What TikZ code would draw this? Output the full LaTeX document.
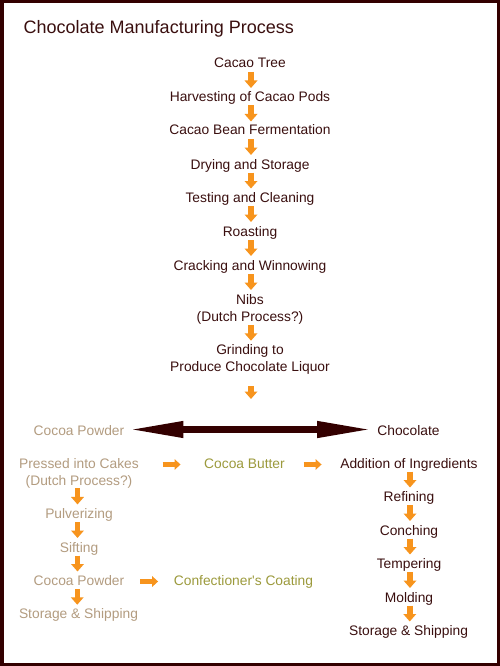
\documentclass[tikz,border=0pt]{standalone}
\usepackage{fontspec}
\setmainfont{Liberation Sans}[Ligatures=TeXOff]
\usetikzlibrary{arrows.meta,calc}
\definecolor{framec}{HTML}{330000}
\definecolor{dk}{HTML}{3A0F0F}
\definecolor{tanc}{HTML}{B39C80}
\definecolor{olivec}{HTML}{9C9A3C}
\definecolor{orng}{HTML}{F7941D}
\newcommand\flowdown[3][1]{\draw[darr] ($(#2.south)!0.5!(#3.north)+(#1,-9.5)$) -- ++(0,16);}
\newcommand\flowright[2]{\draw[harr] ($(#1.east |- #2.west)!0.5!(#2.west)+(-9,0)$) -- ++(18,0);}
\begin{document}
\begin{tikzpicture}[x=1pt,y=-1pt,
  every node/.style={inner sep=0pt, font=\fontsize{13.8}{17}\selectfont},
  one/.style={text height=10pt, text depth=3pt},
  two/.style={align=center},
  dtxt/.style={text=dk}, ttxt/.style={text=tanc}, otxt/.style={text=olivec},
  darr/.style={draw=orng, line width=5.5pt, -{Triangle[width=12.5pt,length=7.5pt]}},
  harr/.style={draw=orng, line width=5pt, -{Triangle[width=10.5pt,length=6pt]}},
  bigarr/.style={draw=framec, line width=7pt, {Triangle[width=15pt,length=56pt]}-{Triangle[width=15pt,length=56pt]}}
]
\useasboundingbox (0,0) rectangle (500,666);
\fill[white] (0,0) rectangle (500,666);
\draw[framec, line width=3.5pt] (1.75,1.75) rectangle (498.25,664.25);

\node[dtxt, anchor=base west, font=\fontsize{18}{21}\selectfont] (title) at (23.5,33.5) {Chocolate Manufacturing Process};

% centre column
\node[one,dtxt] (tree) at (250,64.5) {Cacao Tree};
\node[one,dtxt] (harv) at (250,98.5) {Harvesting of Cacao Pods};
\node[one,dtxt] (ferm) at (250,131.5) {Cacao Bean Fermentation};
\node[one,dtxt] (dry) at (250,165.5) {Drying and Storage};
\node[one,dtxt] (test) at (250,198.5) {Testing and Cleaning};
\node[one,dtxt] (roast) at (250,232.5) {Roasting};
\node[one,dtxt] (crack) at (250,266.5) {Cracking and Winnowing};
\node[two,dtxt] (nibs) at (250,309) {Nibs\\(Dutch Process?)};
\node[two,dtxt] (grind) at (250,359.5) {Grinding to\\Produce Chocolate Liquor};
\coordinate (split) at (251,399);

\flowdown{tree}{harv}
\flowdown{harv}{ferm}
\flowdown{ferm}{dry}
\flowdown{dry}{test}
\flowdown{test}{roast}
\flowdown{roast}{crack}
\flowdown{crack}{nibs}
\flowdown{nibs}{grind}
\draw[darr] ($(grind.south)+(1,11.5)$) -- (split);

% split
\node[one,ttxt] (cpt) at (79,431.5) {Cocoa Powder};
\node[one,dtxt] (choc) at (408.5,431.5) {Chocolate};
\draw[bigarr] ($(cpt.east)+(3,-2)$) -- ($(choc.west)+(-4,-2)$);

% left branch
\node[two,ttxt] (press) at (79,473) {Pressed into Cakes\\(Dutch Process?)};
\node[one,ttxt] (pulv) at (79,514.5) {Pulverizing};
\node[one,ttxt] (sift) at (79,548.5) {Sifting};
\node[one,ttxt] (cpl) at (79,581.5) {Cocoa Powder};
\node[one,ttxt] (stl) at (78.5,615) {Storage \& Shipping};
\flowdown[-1.5]{press}{pulv}
\flowdown[-1.5]{pulv}{sift}
\flowdown[-1.5]{sift}{cpl}
\flowdown[-1.5]{cpl}{stl}

% middle
\node[one,otxt] (butter) at (244.5,464.5) {Cocoa Butter};
\node[one,otxt] (coat) at (243.5,581.5) {Confectioner's Coating};
\flowright{press}{butter}
\flowright{cpl}{coat}

% right branch
\node[one,dtxt] (add) at (409,464.5) {Addition of Ingredients};
\node[one,dtxt] (ref) at (409,497.5) {Refining};
\node[one,dtxt] (conch) at (409,531.5) {Conching};
\node[one,dtxt] (temp) at (409,564.5) {Tempering};
\node[one,dtxt] (mold) at (409,598.5) {Molding};
\node[one,dtxt] (str) at (408.5,631.5) {Storage \& Shipping};
\flowright{butter}{add}
\flowdown{add}{ref}
\flowdown{ref}{conch}
\flowdown{conch}{temp}
\flowdown{temp}{mold}
\flowdown{mold}{str}
\end{tikzpicture}
\end{document}
